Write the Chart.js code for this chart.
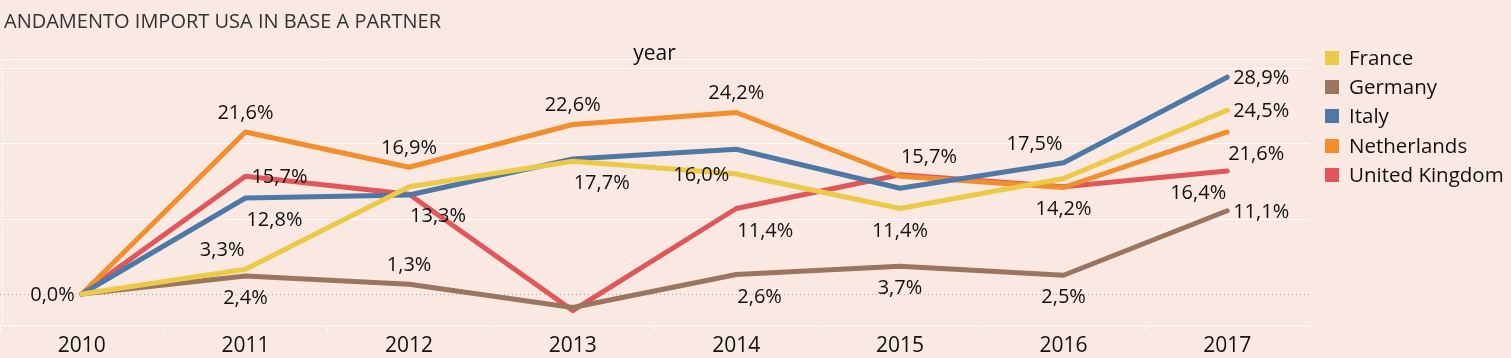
<!DOCTYPE html>
<html>
<head>
<meta charset="utf-8">
<script src="https://cdn.jsdelivr.net/npm/chart.js@4.4.1/dist/chart.umd.min.js"></script>
<style>
  html, body { margin: 0; padding: 0; background: #fae9e2; overflow: hidden; }
  canvas { display: block; }
</style>
</head>
<body>
<canvas id="c" width="1511" height="358"></canvas>
<script>
// ---- data ----
const years = ['2010', '2011', '2012', '2013', '2014', '2015', '2016', '2017'];
const seriesNames = ['France', 'Germany', 'Italy', 'Netherlands', 'United Kingdom'];
const seriesColors = ['#edc948', '#9c755f', '#4e79a7', '#f28e2b', '#e15759'];
const france      = [0, 3.3, 14.3, 17.7, 16.0, 11.4, 15.4, 24.5];
const germany     = [0, 2.4, 1.3, -1.8, 2.6, 3.7, 2.5, 11.1];
const italy       = [0, 12.8, 13.2, 18.0, 19.3, 14.1, 17.5, 28.9];
const netherlands = [0, 21.6, 16.9, 22.6, 24.2, 15.7, 14.2, 21.6];
const uk          = [0, 15.7, 13.3, -2.2, 11.4, 15.9, 14.3, 16.4];
const seriesValues = [france, germany, italy, netherlands, uk];
const yTicks = [0, 10, 20, 30];
const titleText = 'ANDAMENTO IMPORT USA IN BASE A PARTNER';
const headerText = 'year';

// which points carry a value label, and where (series index, point index, placement)
const labelPlan = [
  [0,0,'L'],
  [3,1,'ac'],[4,1,'R'],[2,1,'br'],[0,1,'al'],[1,1,'bc'],
  [3,2,'ac'],[4,2,'br'],[1,2,'ac'],
  [3,3,'ac'],[0,3,'br'],
  [3,4,'ac'],[0,4,'L'],[4,4,'br'],[1,4,'br'],
  [3,5,'ar'],[0,5,'bc'],[1,5,'bc'],
  [2,6,'al'],[3,6,'bc'],[1,6,'bc'],
  [2,7,'R'],[0,7,'R'],[3,7,'br'],[4,7,'bl'],[1,7,'R']
];

const FONT = '"Open Sans", sans-serif';
const fmt = v => v.toFixed(1).replace('.', ',') + '%';

const decorPlugin = {
  id: 'decor',
  beforeDatasetsDraw(chart) {
    const ctx = chart.ctx, a = chart.chartArea, y = chart.scales.y;
    ctx.save();
    ctx.strokeStyle = 'rgba(255,255,255,0.75)';
    ctx.lineWidth = 1;
    ctx.beginPath();
    ctx.moveTo(a.left, a.top + 0.5); ctx.lineTo(a.right, a.top + 0.5);
    ctx.moveTo(a.left + 2.5, a.top); ctx.lineTo(a.left + 2.5, a.bottom);
    ctx.stroke();
    const y0 = Math.round(y.getPixelForValue(0)) + 0.5;
    ctx.strokeStyle = 'rgba(140,140,140,0.7)';
    ctx.setLineDash([1, 3]);
    ctx.beginPath();
    ctx.moveTo(a.left, y0); ctx.lineTo(a.right, y0);
    ctx.stroke();
    ctx.restore();
  },
  afterDraw(chart) {
    const ctx = chart.ctx, a = chart.chartArea;
    ctx.save();
    ctx.textBaseline = 'alphabetic';
    // title
    ctx.font = '500 20px ' + FONT;
    ctx.fillStyle = '#333333';
    ctx.textAlign = 'left';
    ctx.fillText(titleText, 4, 28);
    // header
    ctx.font = '500 21px ' + FONT;
    ctx.fillStyle = '#111111';
    ctx.textAlign = 'center';
    ctx.fillText(headerText, (a.left + a.right) / 2, 60);
    // legend
    ctx.font = '500 20.5px ' + FONT;
    ctx.textAlign = 'left';
    chart.data.datasets.forEach((ds, i) => {
      const cy = 57.5 + i * 29.4;
      ctx.fillStyle = ds.borderColor;
      ctx.fillRect(1325, Math.round(cy - 7), 14, 14);
      ctx.fillStyle = '#111111';
      ctx.fillText(ds.label, 1349, cy + 7);
    });
    // value labels
    ctx.font = '500 20px ' + FONT;
    ctx.fillStyle = '#111111';
    labelPlan.forEach(([s, i, pos]) => {
      const pt = chart.getDatasetMeta(s).data[i];
      const v = chart.data.datasets[s].data[i];
      const t = fmt(v);
      let x = pt.x, yb = pt.y, align = 'center';
      if (pos === 'L') { align = 'right'; x = pt.x - 7; yb = pt.y + 7; }
      else if (pos === 'R') { align = 'left'; x = pt.x + 6; yb = pt.y + 7; }
      else {
        yb = pos[0] === 'a' ? pt.y - 13 : pt.y + 28;
        if (pos[1] === 'c') { align = 'center'; }
        else if (pos[1] === 'r') { align = 'left'; x = pt.x + 1; }
        else { align = 'right'; x = pt.x - 1; }
      }
      ctx.textAlign = align;
      ctx.fillText(t, x, yb);
    });
    ctx.restore();
  }
};

new Chart(document.getElementById('c'), {
  type: 'line',
  data: {
    labels: years,
    datasets: seriesNames.map((n, i) => ({
      label: n,
      data: seriesValues[i],
      borderColor: seriesColors[i],
      backgroundColor: seriesColors[i],
      borderWidth: 5,
      pointRadius: 0,
      pointHoverRadius: 0,
      tension: 0,
      borderJoinStyle: 'round',
      borderCapStyle: 'round',
      fill: false
    }))
  },
  options: {
    responsive: false,
    animation: false,
    events: [],
    layout: { padding: { top: 59, left: 0, right: 202, bottom: 0 } },
    plugins: { legend: { display: false }, title: { display: false }, tooltip: { enabled: false } },
    scales: {
      x: {
        type: 'category',
        offset: true,
        grid: { offset: true, drawOnChartArea: false, drawTicks: true, tickLength: 6, color: 'rgba(255,255,255,0.85)' },
        border: { display: true, color: 'rgba(255,255,255,0.85)', width: 1 },
        ticks: { color: '#111111', font: { family: FONT, size: 21, weight: '500' }, padding: 2, maxRotation: 0, autoSkip: false },
        afterFit(scale) { scale.height = 33; }
      },
      y: {
        min: -4.13,
        max: 31.33,
        afterBuildTicks(scale) { scale.ticks = yTicks.map(v => ({ value: v })); },
        grid: {
          drawTicks: false,
          color: ctx => (ctx.tick && ctx.tick.value === 0) ? 'rgba(0,0,0,0)' : 'rgba(255,255,255,0.85)'
        },
        border: { display: false },
        ticks: { display: false },
        afterFit(scale) { scale.width = 0; }
      }
    }
  },
  plugins: [decorPlugin]
});
</script>
</body>
</html>
